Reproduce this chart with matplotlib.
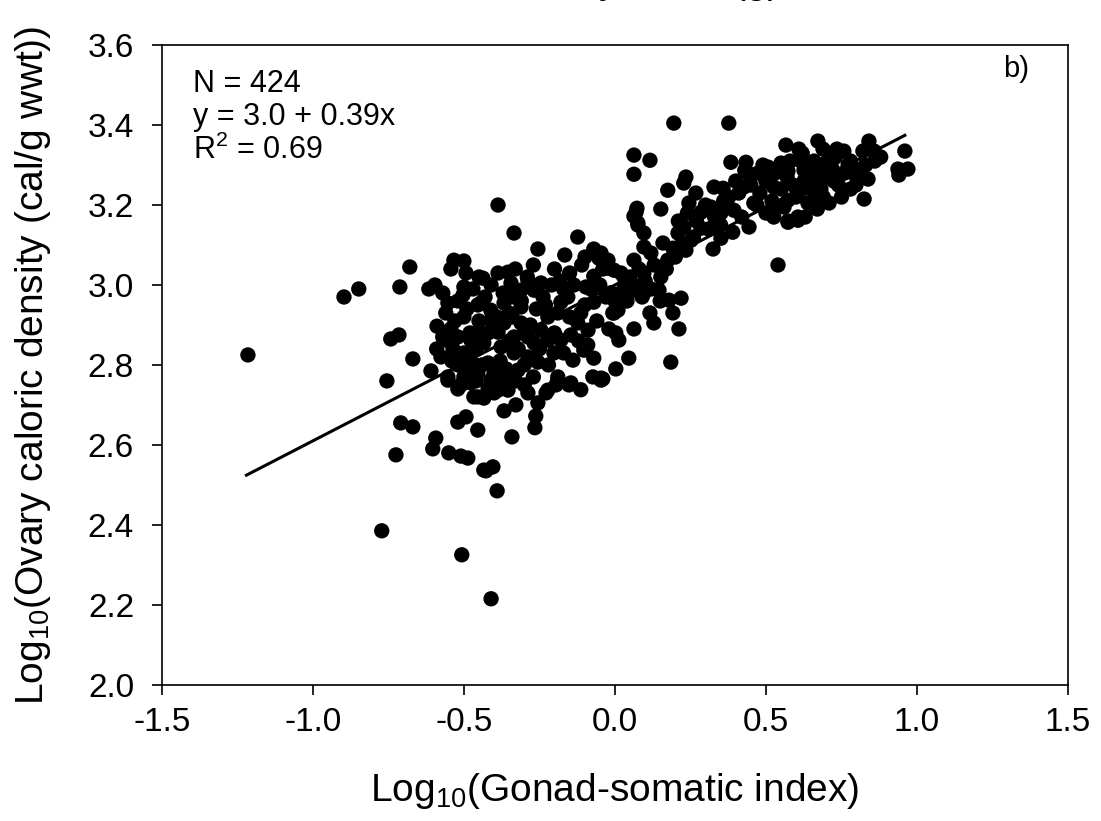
import numpy as np
import matplotlib
matplotlib.use('Agg')
import matplotlib.pyplot as plt

plt.rcParams['font.family'] = ['Liberation Sans', 'DejaVu Sans']
plt.rcParams['mathtext.fontset'] = 'custom'
plt.rcParams['mathtext.rm'] = 'Liberation Sans'
plt.rcParams['mathtext.it'] = 'Liberation Sans:italic'
plt.rcParams['axes.unicode_minus'] = False

# log10 gonad-somatic index vs log10 ovary caloric density
pts_left = [(-1.215, 2.825), (-0.897, 2.97), (-0.848, 2.99), (-0.679, 3.045), (-0.712, 2.995),
            (-0.616, 2.99), (-0.596, 3.0), (-0.57, 2.98), (-0.553, 2.955), (-0.543, 3.04),
            (-0.5, 3.06), (-0.493, 3.03), (-0.5, 2.995), (-0.503, 2.975), (-0.45, 3.02),
            (-0.589, 2.897), (-0.543, 2.89), (-0.5, 2.92), (-0.454, 2.95), (-0.742, 2.865),
            (-0.715, 2.875), (-0.55, 2.86), (-0.669, 2.815), (-0.576, 2.82), (-0.536, 2.84),
            (-0.609, 2.785), (-0.553, 2.77), (-0.755, 2.76), (-0.52, 2.74), (-0.477, 2.81),
            (-0.477, 2.755), (-0.454, 2.72), (-0.709, 2.655), (-0.669, 2.645), (-0.52, 2.657),
            (-0.493, 2.67), (-0.454, 2.637), (-0.593, 2.617), (-0.603, 2.59), (-0.725, 2.575),
            (-0.55, 2.58), (-0.51, 2.572), (-0.487, 2.567), (-0.434, 2.537)]

pts_low = [(-0.772, 2.385), (-0.507, 2.325), (-0.41, 2.215), (-0.39, 2.485), (-0.427, 2.535),
           (-0.404, 2.545), (-0.367, 2.685), (-0.341, 2.62), (-0.265, 2.643), (-0.262, 2.672),
           (-0.328, 2.70), (-0.255, 2.705), (-0.228, 2.73), (-0.195, 2.75), (-0.113, 2.738),
           (-0.152, 2.75), (-0.046, 2.762), (-0.288, 2.73), (-0.467, 2.72), (-0.434, 2.717),
           (-0.4, 2.73), (-0.354, 2.737), (-0.553, 2.762)]

pts_mid = [(0.063, 3.325), (0.063, 3.277), (0.07, 3.182), (0.076, 3.155), (-0.387, 3.20),
           (-0.334, 3.13), (-0.123, 3.12), (-0.255, 3.09), (-0.166, 3.075), (-0.099, 3.07),
           (-0.053, 3.067), (-0.023, 3.042), (0.02, 3.03), (-0.07, 3.022), (-0.182, 3.01),
           (-0.136, 3.0), (-0.096, 2.995), (-0.013, 2.98), (0.043, 2.987), (-0.007, 2.93),
           (0.01, 2.937), (-0.07, 2.817), (-0.103, 2.837), (-0.046, 2.767), (-0.073, 2.77),
           (-0.146, 2.755), (-0.189, 2.77), (-0.202, 2.83), (-0.139, 2.812), (-0.089, 2.887),
           (-0.123, 2.905), (-0.113, 2.93), (-0.07, 2.957), (-0.179, 2.957), (-0.156, 2.97),
           (-0.189, 2.93), (-0.222, 2.92), (-0.146, 2.875), (-0.179, 2.862), (-0.245, 2.887),
           (-0.222, 2.862), (-0.268, 2.855), (-0.245, 3.005), (-0.288, 3.012), (-0.268, 2.987),
           (-0.238, 2.97), (-0.311, 2.987), (-0.344, 3.005), (-0.387, 3.03), (-0.354, 3.032),
           (-0.437, 3.017), (-0.533, 3.062), (-0.444, 2.955), (-0.411, 2.937), (-0.411, 2.912),
           (-0.367, 2.955), (-0.351, 2.93), (-0.334, 2.97), (-0.311, 2.945), (-0.367, 2.905),
           (-0.311, 2.905), (-0.288, 2.87), (-0.334, 2.87), (-0.387, 2.882), (-0.454, 2.882),
           (-0.477, 2.862), (-0.434, 2.855), (-0.377, 2.845), (-0.334, 2.83), (-0.288, 2.82),
           (-0.255, 2.807), (-0.52, 2.80), (-0.42, 2.805), (-0.5, 2.77), (-0.454, 2.78),
           (-0.411, 2.762), (-0.367, 2.77), (-0.321, 2.787), (-0.387, 2.737), (-0.222, 2.737),
           (-0.189, 2.762)]

pts_zero = [(0.185, 2.807), (0.046, 2.817), (0.003, 2.79), (-0.04, 2.765), (0.013, 2.862),
            (0.003, 2.88), (0.063, 2.89), (0.212, 2.89), (0.129, 2.905), (-0.003, 2.93),
            (0.192, 2.93), (0.116, 2.93), (0.219, 2.967), (0.179, 2.962), (0.03, 2.99),
            (0.06, 3.0), (0.09, 2.97), (0.12, 2.99), (0.15, 2.96), (0.04, 2.96), (0.1, 3.01)]

pts_upper = [(0.195, 3.405), (0.377, 3.405), (0.116, 3.312), (0.384, 3.307), (0.434, 3.307),
             (0.43, 3.287), (0.235, 3.27), (0.228, 3.255), (0.175, 3.237), (0.152, 3.19),
             (0.073, 3.192), (0.063, 3.172), (0.268, 3.23), (0.245, 3.205), (0.328, 3.245),
             (0.358, 3.242), (0.377, 3.22), (0.318, 3.195), (0.285, 3.182), (0.351, 3.18),
             (0.394, 3.187), (0.427, 3.245), (0.474, 3.28), (0.507, 3.295), (0.55, 3.305),
             (0.46, 3.205), (0.444, 3.145), (0.526, 3.17), (0.573, 3.157), (0.606, 3.162),
             (0.639, 3.205), (0.606, 3.23), (0.573, 3.212), (0.526, 3.245), (0.626, 3.287),
             (0.54, 3.05), (0.325, 3.09), (0.351, 3.117), (0.39, 3.132), (0.228, 3.145),
             (0.209, 3.13), (0.252, 3.112), (0.235, 3.087), (0.285, 3.142), (0.192, 3.092),
             (0.159, 3.105), (0.096, 3.13), (0.096, 3.095), (0.076, 3.15), (0.119, 3.08),
             (0.063, 3.062), (0.175, 3.062), (0.152, 3.02), (0.146, 2.987), (0.096, 3.03),
             (-0.023, 3.062), (-0.046, 3.08), (-0.003, 3.037), (0.03, 3.02), (0.063, 2.987),
             (-0.013, 2.98), (0.01, 2.945), (0.096, 2.98)]

pts_right = [(0.96, 3.335), (0.937, 3.29), (0.97, 3.29), (0.94, 3.275), (0.841, 3.36),
             (0.821, 3.335), (0.858, 3.335), (0.758, 3.335), (0.735, 3.34), (0.672, 3.36),
             (0.689, 3.34), (0.609, 3.34), (0.566, 3.35), (0.838, 3.265), (0.798, 3.25),
             (0.825, 3.215), (0.709, 3.205), (0.725, 3.26), (0.772, 3.30), (0.815, 3.29),
             (0.659, 3.31), (0.705, 3.31), (0.616, 3.31), (0.573, 3.285), (0.672, 3.28),
             (0.626, 3.26), (0.682, 3.24), (0.649, 3.205), (0.599, 3.22), (0.573, 3.16),
             (0.606, 3.17), (0.56, 3.195), (0.659, 3.255)]

# points hidden inside the solid-looking clusters
pts_band = [(0.45, 3.25), (0.48, 3.23), (0.50, 3.26), (0.52, 3.21), (0.55, 3.24), (0.57, 3.27),
            (0.59, 3.25), (0.62, 3.24), (0.64, 3.28), (0.66, 3.23), (0.68, 3.30), (0.70, 3.27),
            (0.72, 3.29), (0.74, 3.25), (0.76, 3.28), (0.78, 3.31), (0.80, 3.27), (0.83, 3.30),
            (0.86, 3.31), (0.88, 3.32), (0.47, 3.20), (0.50, 3.18), (0.53, 3.19), (0.63, 3.17),
            (0.67, 3.19), (0.69, 3.22), (0.75, 3.22), (0.78, 3.24), (0.73, 3.32), (0.62, 3.33),
            (0.58, 3.31), (0.53, 3.28), (0.49, 3.30), (0.44, 3.28), (0.41, 3.23), (0.40, 3.26),
            (0.36, 3.21), (0.33, 3.17), (0.30, 3.20), (0.27, 3.16), (0.31, 3.14), (0.35, 3.15),
            (0.42, 3.17), (0.26, 3.12), (0.22, 3.10), (0.20, 3.07), (0.17, 3.04), (0.13, 3.05),
            (0.21, 3.16), (0.24, 3.18)]

pts_core = [(-0.05, 3.00), (-0.03, 2.97), (0.02, 2.98), (0.05, 3.02), (0.08, 3.04), (-0.08, 2.99),
            (-0.10, 2.95), (-0.06, 2.91), (-0.02, 2.89), (0.00, 2.96), (-0.15, 2.92), (-0.12, 2.86),
            (-0.09, 2.85), (-0.17, 2.83), (-0.20, 2.88), (-0.23, 2.95), (-0.21, 3.00), (-0.26, 2.94),
            (-0.28, 2.90), (-0.30, 2.88), (-0.32, 2.84), (-0.35, 2.86), (-0.38, 2.81), (-0.36, 2.79),
            (-0.30, 2.80), (-0.27, 2.77), (-0.25, 2.84), (-0.22, 2.80), (-0.33, 2.76), (-0.40, 2.78),
            (-0.44, 2.80), (-0.46, 2.84), (-0.48, 2.88), (-0.45, 2.91), (-0.42, 2.88), (-0.39, 2.92),
            (-0.37, 2.98), (-0.41, 3.00), (-0.43, 2.97), (-0.47, 2.99), (-0.49, 2.94), (-0.52, 2.96),
            (-0.53, 2.91), (-0.56, 2.93), (-0.57, 2.87), (-0.52, 2.87), (-0.50, 2.83), (-0.48, 2.79),
            (-0.54, 2.81), (-0.59, 2.84), (-0.51, 2.75), (-0.46, 2.76), (-0.42, 2.74), (-0.38, 2.76),
            (-0.30, 2.75), (-0.34, 2.92), (-0.31, 2.96), (-0.29, 3.02), (-0.33, 3.04), (-0.27, 3.05),
            (-0.20, 3.04), (-0.15, 3.03), (-0.11, 3.05), (-0.04, 3.04), (-0.07, 3.09), (-0.17, 2.99)]

pts = pts_left + pts_low + pts_mid + pts_zero + pts_upper + pts_right + pts_band + pts_core
gsi = np.array([p[0] for p in pts])
cal = np.array([p[1] for p in pts])

fit_a, fit_b = 3.0, 0.39
fit_x = np.array([-1.22, 0.96])

fig = plt.figure(figsize=(11.01, 8.21), dpi=100)
ax = fig.add_axes([0.147, 0.166, 0.823, 0.779])

ax.scatter(gsi, cal, s=122, c='black', edgecolors='none', zorder=3)
ax.plot(fit_x, fit_a + fit_b * fit_x, color='black', lw=2.2, zorder=4)

ax.set_xlim(-1.5, 1.5)
ax.set_ylim(2.0, 3.6)
ax.set_xticks(np.arange(-1.5, 1.51, 0.5))
ax.set_yticks(np.arange(2.0, 3.61, 0.2))
ax.set_xticklabels(['%.1f' % v for v in np.arange(-1.5, 1.51, 0.5)])
ax.set_yticklabels(['%.1f' % v for v in np.arange(2.0, 3.61, 0.2)])
ax.tick_params(direction='out', length=7, width=1.2, labelsize=24)
ax.tick_params(axis='x', pad=9)
ax.tick_params(axis='y', pad=13)
for sp in ax.spines.values():
    sp.set_linewidth(1.2)

ax.set_xlabel('Log$_{10}$(Gonad-somatic index)', fontsize=28, labelpad=24)
ax.set_ylabel('Log$_{10}$(Ovary caloric density (cal/g wwt))', fontsize=28, labelpad=25)

ax.text(0.034, 0.962, 'N = 424\ny = 3.0 + 0.39x\nR$^2$ = 0.69', transform=ax.transAxes,
        fontsize=22, va='top', ha='left', linespacing=1.12)
ax.text(0.957, 0.985, 'b)', transform=ax.transAxes, fontsize=21, va='top', ha='right')

# label of the panel above, cut off at the top edge of the image
fig.text(0.481, 1.009, 'Body mass (g)', fontsize=28, ha='left', va='baseline')

fig.savefig('out.png', dpi=100)
